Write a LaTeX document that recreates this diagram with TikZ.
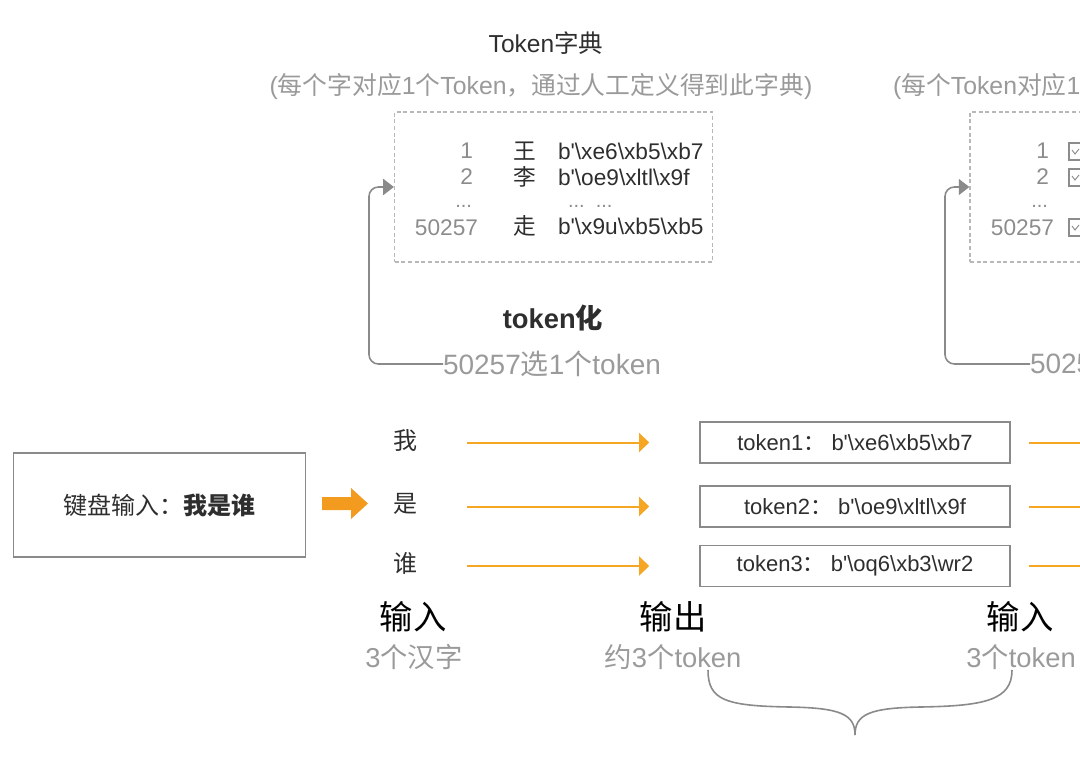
\documentclass[tikz,border=0pt]{standalone}
\usepackage{fontspec}
\setmainfont{Liberation Sans}[Ligatures=TeXOff]
\newfontfamily\cjk{Noto Sans CJK SC}
\newcommand\zh[1]{{\cjk #1}}
\newcommand\BS{\textbackslash}
\newcommand\fsize[1]{\fontsize{#1}{#1}\selectfont}
\usetikzlibrary{arrows.meta}
\definecolor{orng}{HTML}{F5A623}
\definecolor{orngd}{HTML}{F39B1F}
\definecolor{gtxt}{HTML}{9A9A9A}
\definecolor{gnum}{HTML}{8C8C8C}
\definecolor{gline}{HTML}{8A8A8A}
\definecolor{gdash}{HTML}{B8B8B8}
\definecolor{dtxt}{HTML}{2E2E2E}
\tikzset{
  txt/.style={inner sep=0pt, outer sep=0pt, text=dtxt},
  gtx/.style={txt, text=gtxt},
  num/.style={txt, text=gnum, font=\fsize{17pt}, anchor=east},
  dots/.style={txt, text=gnum, font=\fsize{15pt}},
  row/.style={txt, font=\fsize{17pt}},
  dbox/.style={draw=gdash, line width=0.9pt, dash pattern=on 3pt off 2pt,
    minimum width=318*0.75pt, minimum height=150*0.75pt, inner sep=0pt},
  tbox/.style={draw=gline, line width=1.2pt, minimum width=310*0.75pt,
    minimum height=41*0.75pt, inner sep=0pt, text=dtxt, font=\fsize{16.5pt}},
  oarrow/.style={draw=orng, line width=1.5pt, -{Triangle[length=7.5pt,width=14pt]}},
  oline/.style={draw=orng, line width=1.5pt},
  garrow/.style={draw=gline, line width=1.2pt, rounded corners=7pt,
    -{Triangle[length=8pt,width=12pt]}},
}
\begin{document}
\begin{tikzpicture}[x=0.75pt,y=-0.75pt]
\useasboundingbox (0,0) rectangle (1080,763);
\clip (0,0) rectangle (1080,763);

% ---------- left dictionary ----------
\node[txt, font=\fsize{18.4pt}] (title) at (546,43) {Token\zh{字典}};
\node[gtx, font=\fsize{18.6pt}] (sub) at (541,87) {(\zh{每个字对应}1\zh{个}Token\zh{，通过人工定义得到此字典})};
\node[dbox] (dictL) at (553.5,187) {};
\node[num] (n1) at (473,151) {1};
\node[num] (n2) at (473,177) {2};
\node[dots, anchor=east] (n3) at (472,206) {...};
\node[num] (n4) at (478,228) {50257};
\node[row] (c1) at (525,151) {\zh{王}};
\node[row] (c2) at (525,177) {\zh{李}};
\node[row] (c4) at (525,226) {\zh{走}};
\node[row, anchor=west] (b1) at (558,151) {b'\BS xe6\BS xb5\BS xb7};
\node[row, anchor=west] (b2) at (558,177) {b'\BS oe9\BS xltl\BS x9f};
\node[dots, anchor=west] (b3) at (568,206) {...\ \ ...};
\node[row, anchor=west] (b4) at (558,226) {b'\BS x9u\BS xb5\BS xb5};

\node[txt, font=\fsize{20.5pt}\bfseries] (tkz) at (553,318) {token\zh{化}};
\node[gtx, font=\fsize{21pt}, anchor=west] (selL) at (443,364) {50257\zh{选}1\zh{个}token};
\draw[garrow] (selL.west) -- ++(-74,0) |- (dictL.west);

% ---------- right dictionary (cut by the frame) ----------
\node[gtx, font=\fsize{18.6pt}, anchor=west] (subR) at (893,87) {(\zh{每个}Token\zh{对应}1};
\node[dbox] (dictR) at (1129,187) {};
\node[num] (m1) at (1049,151) {1};
\node[num] (m2) at (1049,177) {2};
\node[dots, anchor=east] (m3) at (1048,206) {...};
\node[num] (m4) at (1054,228) {50257};
\foreach \yy in {143,169,219}{
  \draw[gnum, line width=0.8pt] (1069,\yy) rectangle (1086,\yy+17);
  \draw[gnum, line width=0.7pt] (1072,\yy+7) -- (1075,\yy+11) -- (1079,\yy+6);
}
\node[gtx, font=\fsize{21pt}, anchor=west] (selR) at (1030,364) {5025};
\draw[garrow] (selR.west) -- ++(-85,0) |- (dictR.west);

% ---------- input box ----------
\node[draw=gline, line width=1.2pt, minimum width=292*0.75pt, minimum height=104*0.75pt,
  inner sep=0pt, text=dtxt, font=\fsize{18pt}] (inbox) at (159.5,505)
  {\zh{键盘输入：}\zh{\bfseries 我是谁}};
\fill[orngd] (322,497) -- (351,497) -- (351,488) -- (368,503.5) -- (351,519) -- (351,510) -- (322,510) -- cycle;

\node[txt, font=\fsize{18pt}] (ch1) at (405,441) {\zh{我}};
\node[txt, font=\fsize{18pt}] (ch2) at (405,504) {\zh{是}};
\node[txt, font=\fsize{18pt}] (ch3) at (405,563) {\zh{谁}};

\node[tbox] (tok1) at (855,442.5) {token1\zh{：}\ b'\BS xe6\BS xb5\BS xb7};
\node[tbox] (tok2) at (855,506.5) {token2\zh{：}\ b'\BS oe9\BS xltl\BS x9f};
\node[tbox] (tok3) at (855,566) {token3\zh{：}\ b'\BS oq6\BS xb3\BS wr2};

\draw[oarrow] ([xshift=37.5pt]ch1.east |- tok1.west) -- ([xshift=-37.5pt]tok1.west);
\draw[oarrow] ([xshift=37.5pt]ch2.east |- tok2.west) -- ([xshift=-37.5pt]tok2.west);
\draw[oarrow] ([xshift=37.5pt]ch3.east |- tok3.west) -- ([xshift=-37.5pt]tok3.west);
\draw[oline] ([xshift=13.5pt]tok1.east) -- ++(80,0);
\draw[oline] ([xshift=13.5pt]tok2.east) -- ++(80,0);
\draw[oline] ([xshift=13.5pt]tok3.east) -- ++(80,0);

% ---------- bottom labels ----------
\node[txt, text=black, font=\fsize{25pt}] (in1) at (413,617) {\zh{输入}};
\node[gtx, font=\fsize{20.5pt}] (in1s) at (414,657) {3\zh{个汉字}};
\node[txt, text=black, font=\fsize{25pt}] (out) at (673,617) {\zh{输出}};
\node[gtx, font=\fsize{20.5pt}] (outs) at (673,657) {\zh{约}3\zh{个}token};
\node[txt, text=black, font=\fsize{25pt}] (in2) at (1020,617) {\zh{输入}};
\node[gtx, font=\fsize{20.5pt}] (in2s) at (1021,657) {3\zh{个}token};

\draw[gline, line width=1.2pt]
  (708,670) .. controls (708,700) and (725,706) .. (790,707)
  .. controls (840,708) and (855,714) .. (855,735)
  .. controls (855,714) and (870,708) .. (920,707)
  .. controls (985,706) and (1012,700) .. (1012,670);
\end{tikzpicture}
\end{document}
